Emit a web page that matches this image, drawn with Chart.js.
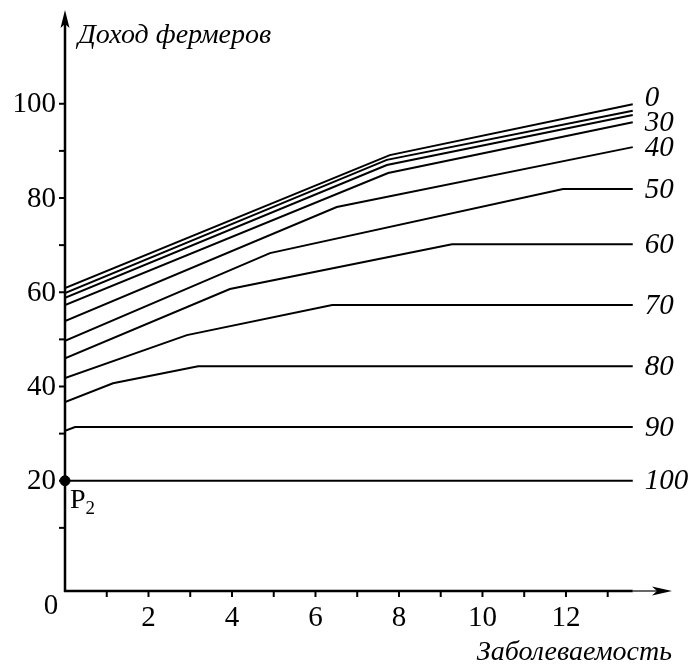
<!DOCTYPE html>
<html>
<head>
<meta charset="utf-8">
<script src="https://cdn.jsdelivr.net/npm/chart.js@4"></script>
<style>
  html, body { margin: 0; padding: 0; background: #fff; }
  canvas { display: block; }
</style>
</head>
<body>
<canvas id="income" width="691" height="666"></canvas>
<script>
// curves: farmer income vs incidence, one per level
const levels = ['0', '10', '20', '30', '40', '50', '60', '70', '80', '90', '100'];
const levelTags = ['0', '', '', '30', '40', '50', '60', '70', '80', '90', '100'];
const incidence = [
  [0, 7.78, 13.6],
  [0, 7.71, 13.6],
  [0, 7.71, 13.6],
  [0, 7.74, 13.6],
  [0, 6.51, 13.6],
  [0, 4.91, 11.93, 13.6],
  [0, 3.95, 9.27, 13.6],
  [0, 2.92, 6.4, 13.6],
  [0, 1.15, 3.19, 13.6],
  [0, 0.24, 13.6],
  [0, 13.6]
];
const income = [
  [60.9, 89.1, 99.9],
  [59.8, 88.1, 98.5],
  [58.8, 87.0, 97.6],
  [57.3, 85.3, 96.1],
  [53.9, 78.1, 90.8],
  [49.7, 68.3, 81.9, 81.9],
  [46.0, 60.7, 70.2, 70.2],
  [41.8, 50.9, 57.3, 57.3],
  [36.7, 40.7, 44.3, 44.3],
  [30.6, 31.4, 31.4],
  [20, 20]
];
const pointP2 = [0, 20];

const xTickValues = [1, 2, 3, 4, 5, 6, 7, 8, 9, 10, 11, 12, 13];
const xTickLabels = ['', '2', '', '4', '', '6', '', '8', '', '10', '', '12', ''];
const yTickValues = [10, 20, 30, 40, 50, 60, 70, 80, 90, 100];
const yTickLabels = ['', '20', '', '40', '', '60', '', '80', '', '100'];

const serif = "'Liberation Serif', 'Times New Roman', serif";

const datasets = levels.map((lvl, i) => ({
  label: lvl,
  data: incidence[i].map((x, j) => ({ x: x, y: income[i][j] })),
  showLine: true,
  borderColor: '#000',
  borderWidth: 2,
  pointRadius: 0,
  tension: 0
}));
datasets.push({
  label: 'P2',
  data: [{ x: pointP2[0], y: pointP2[1] }],
  pointRadius: 5,
  pointBackgroundColor: '#000',
  pointBorderColor: '#000',
  clip: false
});

const axesPlugin = {
  id: 'axes',
  afterDraw(chart) {
    const ctx = chart.ctx;
    const xs = chart.scales.x;
    const ys = chart.scales.y;
    const x0 = xs.getPixelForValue(0);
    const y0 = ys.getPixelForValue(ys.min);
    const xEnd = xs.getPixelForValue(xs.max);
    const yTop = ys.getPixelForValue(ys.max);
    const xLine = xs.getPixelForValue(incidence[0][incidence[0].length - 1]);

    ctx.save();
    ctx.strokeStyle = '#000';
    ctx.fillStyle = '#000';

    // y axis + arrow
    ctx.lineWidth = 2.5;
    ctx.beginPath();
    ctx.moveTo(x0, y0 + 1);
    ctx.lineTo(x0, yTop + 12);
    ctx.stroke();
    ctx.beginPath();
    ctx.moveTo(x0, yTop);
    ctx.lineTo(x0 - 4.5, yTop + 18);
    ctx.lineTo(x0, yTop + 14);
    ctx.lineTo(x0 + 4.5, yTop + 18);
    ctx.closePath();
    ctx.fill();

    // x axis, thin past the curves, then arrow
    ctx.beginPath();
    ctx.moveTo(x0 - 1, y0);
    ctx.lineTo(xLine, y0);
    ctx.stroke();
    ctx.lineWidth = 1.2;
    ctx.beginPath();
    ctx.moveTo(xLine, y0);
    ctx.lineTo(xEnd - 10, y0);
    ctx.stroke();
    ctx.beginPath();
    ctx.moveTo(xEnd, y0);
    ctx.lineTo(xEnd - 20, y0 - 4.5);
    ctx.lineTo(xEnd - 15, y0);
    ctx.lineTo(xEnd - 20, y0 + 4.5);
    ctx.closePath();
    ctx.fill();

    // ticks
    ctx.lineWidth = 2;
    ctx.font = '29px ' + serif;
    ctx.textAlign = 'center';
    ctx.textBaseline = 'middle';
    xTickValues.forEach((v, i) => {
      const px = xs.getPixelForValue(v);
      ctx.beginPath();
      ctx.moveTo(px, y0);
      ctx.lineTo(px, y0 + 6);
      ctx.stroke();
      if (xTickLabels[i]) ctx.fillText(xTickLabels[i], px, y0 + 27);
    });
    ctx.textAlign = 'right';
    yTickValues.forEach((v, i) => {
      const py = ys.getPixelForValue(v);
      ctx.beginPath();
      ctx.moveTo(x0 - 6, py);
      ctx.lineTo(x0, py);
      ctx.stroke();
      if (yTickLabels[i]) ctx.fillText(yTickLabels[i], x0 - 9, py + 1);
    });
    ctx.textAlign = 'center';
    ctx.fillText('0', x0 - 14, y0 + 15);

    // level labels at the end of each curve
    ctx.font = 'italic 29px ' + serif;
    ctx.textAlign = 'left';
    levelTags.forEach((tag, i) => {
      if (!tag) return;
      const n = incidence[i].length - 1;
      const px = xs.getPixelForValue(incidence[i][n]);
      const py = ys.getPixelForValue(income[i][n]);
      ctx.fillText(tag, px + 12, py + (i === 0 ? -6 : 1));
    });

    // axis titles
    ctx.font = 'italic 28px ' + serif;
    ctx.textBaseline = 'alphabetic';
    ctx.fillText('Доход фермеров', x0 + 13, 43);
    ctx.textAlign = 'right';
    ctx.fillText('Заболеваемость', xEnd, 660);

    // P2
    const p2x = xs.getPixelForValue(pointP2[0]);
    const p2y = ys.getPixelForValue(pointP2[1]);
    ctx.textAlign = 'left';
    ctx.font = '28px ' + serif;
    ctx.fillText('P', p2x + 5, p2y + 27);
    const pw = ctx.measureText('P').width;
    ctx.font = '19px ' + serif;
    ctx.fillText('2', p2x + 5 + pw, p2y + 33);

    ctx.restore();
  }
};

new Chart(document.getElementById('income'), {
  type: 'scatter',
  data: { datasets: datasets },
  options: {
    responsive: false,
    animation: false,
    layout: { padding: { left: 65, right: 19, top: 10, bottom: 75 } },
    plugins: { legend: { display: false }, tooltip: { enabled: false } },
    scales: {
      x: { type: 'linear', min: 0, max: 14.54, display: false },
      y: { type: 'linear', min: -3.4, max: 119.9, display: false }
    }
  },
  plugins: [axesPlugin]
});
</script>
</body>
</html>
